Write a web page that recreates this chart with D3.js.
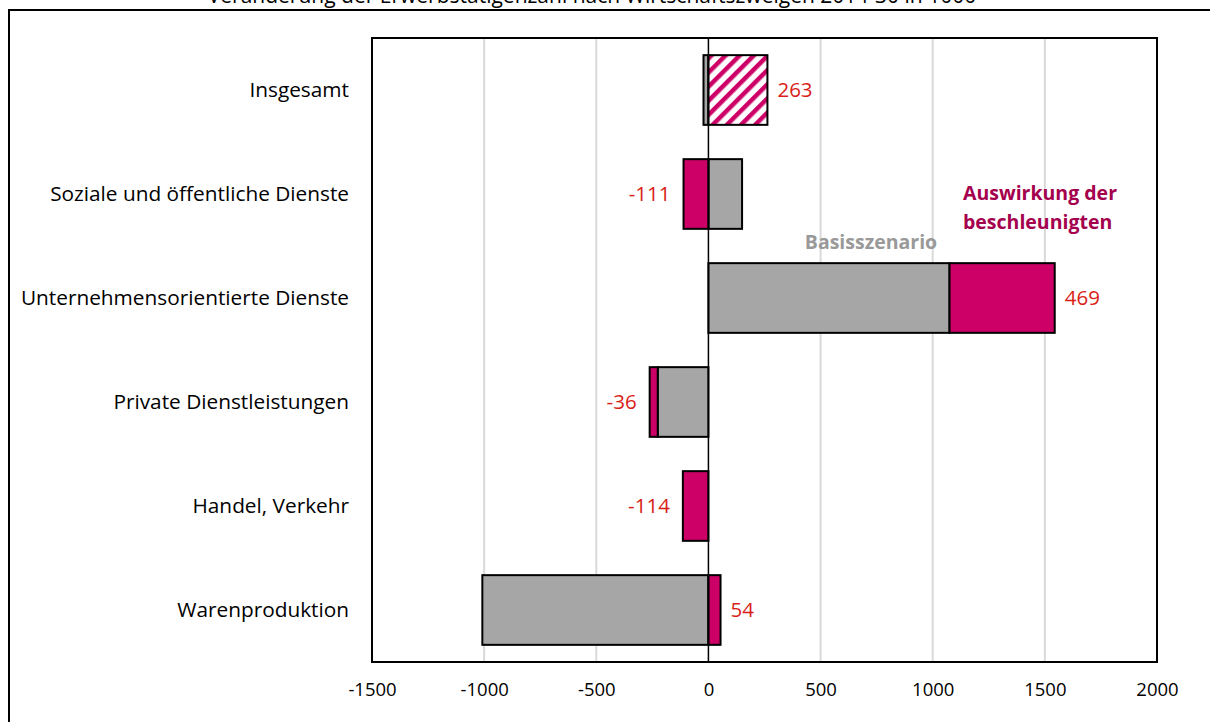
<!DOCTYPE html>
<html><head><meta charset="utf-8">
<script src="https://cdn.jsdelivr.net/npm/d3@7"></script>
<style>body{margin:0;background:#fff;}svg{display:block;font-family:"Open Sans",sans-serif;}</style>
</head><body>
<svg id="chart" width="1210" height="722"></svg>
<script>
const title = "Veränderung der Erwerbstätigenzahl nach Wirtschaftszweigen 2014-30 in 1000";
const categories = ["Insgesamt","Soziale und öffentliche Dienste","Unternehmensorientierte Dienste","Private Dienstleistungen","Handel, Verkehr","Warenproduktion"];
const basis = [-22, 150, 1075, -226, 0, -1008];
const impact = [263, -111, 469, -36, -114, 54];
const xTicks = [-1500,-1000,-500,0,500,1000,1500,2000];
const labelBasis = "Basisszenario";
const labelImpact = ["Auswirkung der","beschleunigten"];

const svg = d3.select("#chart");
const W = 1210, H = 722;
const m = {left:372, top:38, right:1157, bottom:662};
const FONT = "'Open Sans',sans-serif";

// outer frame
svg.append("path").attr("d",`M9,${H+5}V10H${W+5}`).attr("fill","none").attr("stroke","#000").attr("stroke-width",2);
svg.append("text").attr("x",592).attr("y",3).attr("text-anchor","middle").attr("font-size",21).attr("fill","#000").text(title);

const x = d3.scaleLinear().domain([-1500,2000]).range([m.left,m.right]);
const y = d3.scaleBand().domain(categories).range([m.top,m.bottom]).paddingInner(0.33).paddingOuter(0.165);

// defs hatch
const defs = svg.append("defs");
const pat = defs.append("pattern").attr("id","hatch").attr("patternUnits","userSpaceOnUse")
  .attr("width",10).attr("height",10).attr("patternTransform","rotate(45)");
pat.append("rect").attr("width",10).attr("height",10).attr("fill","#fff");
pat.append("rect").attr("x",0).attr("width",4.5).attr("height",10).attr("fill","#CC0066");

// gridlines
svg.append("g").selectAll("line").data(xTicks.filter(t=>t!==0 && t!==-1500 && t!==2000)).join("line")
  .attr("x1",d=>x(d)).attr("x2",d=>x(d)).attr("y1",m.top).attr("y2",m.bottom)
  .attr("stroke","#d9d9d9").attr("stroke-width",2);

// stacked data
const rows = categories.map((c,i)=>({cat:c, basis:basis[i], impact:impact[i]}));
const stack = d3.stack().keys(["basis","impact"]).offset(d3.stackOffsetDiverging);
const series = stack(rows);

const fills = {basis:"#A6A6A6", impact:"#CC0066"};
series.forEach(s=>{
  svg.append("g").selectAll("rect").data(s.filter(d=>d[1]-d[0]!==0)).join("rect")
    .attr("x",d=>x(Math.min(d[0],d[1])))
    .attr("width",d=>Math.abs(x(d[1])-x(d[0])))
    .attr("y",d=>y(d.data.cat))
    .attr("height",y.bandwidth())
    .attr("fill",d=> (s.key==="impact" && d.data.cat==="Insgesamt") ? "url(#hatch)" : fills[s.key])
    .attr("stroke","#000").attr("stroke-width",2);
});

// zero line
svg.append("line").attr("x1",x(0)).attr("x2",x(0)).attr("y1",m.top).attr("y2",m.bottom).attr("stroke","#000").attr("stroke-width",1.5);
// plot border
svg.append("rect").attr("x",m.left).attr("y",m.top).attr("width",m.right-m.left).attr("height",m.bottom-m.top)
  .attr("fill","none").attr("stroke","#000").attr("stroke-width",2);

// value labels
const imp = series[1];
svg.append("g").selectAll("text").data(imp).join("text")
  .attr("x",d=> d.data.impact>=0 ? x(d[1])+10 : x(d[0])-13)
  .attr("y",d=>y(d.data.cat)+y.bandwidth()/2)
  .attr("dy","0.35em")
  .attr("text-anchor",d=>d.data.impact>=0?"start":"end")
  .attr("font-size",20.5).attr("fill","#D91E18")
  .text(d=>d.data.impact);

// category labels
svg.append("g").selectAll("text").data(categories).join("text")
  .attr("x",349).attr("y",d=>y(d)+y.bandwidth()/2).attr("dy","0.35em")
  .attr("text-anchor","end").attr("font-size",20.8).attr("fill","#000").text(d=>d);

// x axis labels
const ax = svg.append("g").attr("transform",`translate(0,${m.bottom})`)
  .call(d3.axisBottom(x).tickValues(xTicks).tickSize(0).tickPadding(21).tickFormat(d=>d));
ax.select(".domain").remove();
ax.selectAll("text").attr("font-size",18.5).attr("fill","#000").attr("font-family",FONT);

// annotations
svg.append("text").attr("x",871).attr("y",242).attr("dy","0.35em").attr("text-anchor","middle")
  .attr("font-size",19.5).attr("font-weight","bold").attr("fill","#999999").text(labelBasis);
svg.append("g").selectAll("text").data(labelImpact).join("text")
  .attr("x",963).attr("y",(d,i)=>193+i*29).attr("dy","0.35em")
  .attr("font-size",19.5).attr("font-weight","bold").attr("fill","#A5004D").text(d=>d);
</script>
</body></html>
